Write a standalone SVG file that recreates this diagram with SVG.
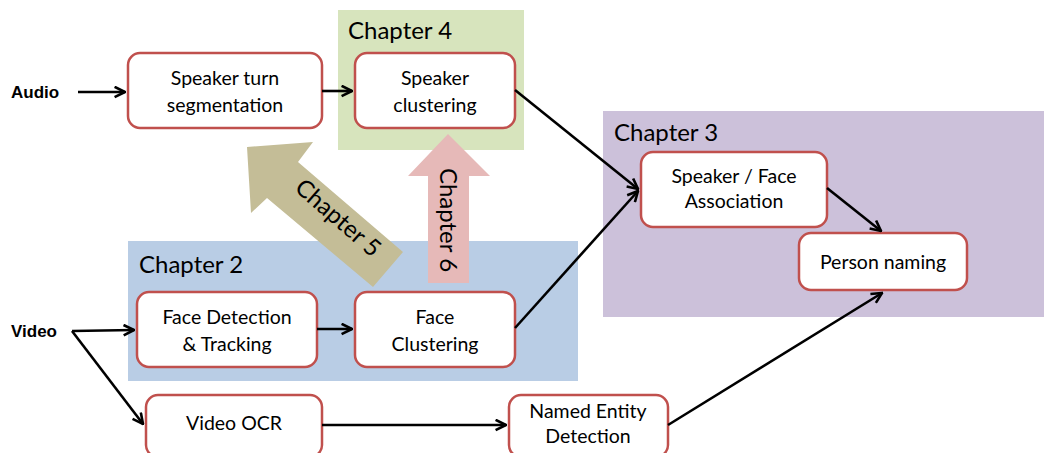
<svg xmlns="http://www.w3.org/2000/svg" width="1044" height="453" viewBox="0 0 1044 453">
<style>
.node rect{fill:#fff;stroke:#c0504d;stroke-width:2.5}
.t{font-family:Lato,"Open Sans",sans-serif;font-size:19.5px;fill:#000;text-anchor:middle}
.ch{font-family:Lato,"Open Sans",sans-serif;font-size:24px;fill:#000}
.lbl{font-family:"Liberation Sans",Arial,sans-serif;font-size:17px;font-weight:bold;fill:#000}
.conn line,.conn path{stroke:#000;stroke-width:2.6;fill:none;marker-end:url(#ah)}
</style>
<defs>
<marker id="ah" viewBox="0 0 10 10" refX="9" refY="5" markerWidth="5" markerHeight="5" orient="auto" markerUnits="strokeWidth">
<path d="M1,1 L9,5 L1,9" fill="none" stroke="#000" stroke-width="2"/>
</marker>
</defs>
<rect x="0" y="0" width="1044" height="453" fill="#fff"/>
<g id="chapter4"><rect x="338" y="10" width="186" height="140" fill="#d7e4bd"/><text class="ch" x="348" y="39">Chapter 4</text></g>
<g id="chapter3"><rect x="603" y="111" width="441" height="206" fill="#ccc1da"/><text class="ch" x="614" y="141">Chapter 3</text></g>
<g id="chapter2"><rect x="128" y="241" width="450" height="140" fill="#b9cde5"/><text class="ch" x="139" y="273">Chapter 2</text></g>
<g id="chapter5">
<polygon points="247,147 313,142 298,162 403,252 373,287 267,198 251,213" fill="#c4bd97"/>
<text class="ch" transform="translate(338,218) rotate(41)" text-anchor="middle" y="8">Chapter 5</text>
</g>
<g id="chapter6">
<polygon points="448,134 490,176 469,176 469,283 428,283 428,176 408,176" fill="#e6b9b8"/>
<text class="ch" transform="translate(448,220) rotate(90)" text-anchor="middle" y="8">Chapter 6</text>
</g>
<g id="audio"><text class="lbl" x="11" y="98">Audio</text></g>
<g id="video"><text class="lbl" x="11" y="337">Video</text></g>
<g id="speaker-turn" class="node"><rect x="128" y="53" width="194" height="75" rx="12"/><text class="t" x="225" y="85">Speaker turn</text><text class="t" x="225" y="112">segmentation</text></g>
<g id="speaker-clustering" class="node"><rect x="355" y="53" width="160" height="75" rx="12"/><text class="t" x="435" y="85">Speaker</text><text class="t" x="435" y="112">clustering</text></g>
<g id="face-detection" class="node"><rect x="137" y="292" width="180" height="75" rx="12"/><text class="t" x="227" y="324">Face Detection</text><text class="t" x="227" y="351">&amp; Tracking</text></g>
<g id="face-clustering" class="node"><rect x="355" y="292" width="160" height="75" rx="12"/><text class="t" x="435" y="324">Face</text><text class="t" x="435" y="351">Clustering</text></g>
<g id="speaker-face" class="node"><rect x="641" y="152" width="186" height="75" rx="12"/><text class="t" x="734" y="183">Speaker / Face</text><text class="t" x="734" y="208">Association</text></g>
<g id="person-naming" class="node"><rect x="799" y="233" width="168" height="57" rx="12"/><text class="t" x="883" y="269">Person naming</text></g>
<g id="video-ocr" class="node"><rect x="146" y="395" width="176" height="62" rx="12"/><text class="t" x="234" y="430">Video OCR</text></g>
<g id="named-entity" class="node"><rect x="509" y="395" width="159" height="62" rx="12"/><text class="t" x="588" y="418">Named Entity</text><text class="t" x="588" y="443">Detection</text></g>
<g class="conn">
<line x1="78" y1="92" x2="125" y2="92"/>
<line x1="322" y1="91" x2="352" y2="91"/>
<line x1="515" y1="90" x2="638" y2="189"/>
<line x1="515" y1="328" x2="638" y2="191"/>
<line x1="827" y1="188" x2="881" y2="231"/>
<line x1="668" y1="425" x2="882" y2="293"/>
<line x1="317" y1="329" x2="352" y2="329"/>
<line x1="322" y1="425" x2="506" y2="425"/>
<path d="M72,331 L134,330"/>
<path d="M72,331 L143,424"/>
</g>
</svg>
